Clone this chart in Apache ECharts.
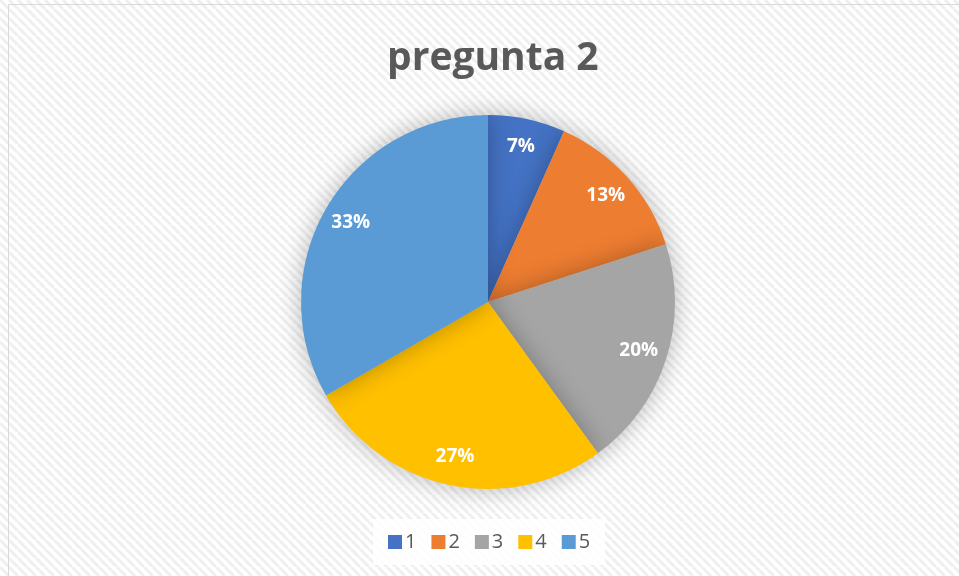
<!DOCTYPE html>
<html>
<head>
<meta charset="utf-8">
<script src="https://cdn.jsdelivr.net/npm/echarts@6/dist/echarts.min.js"></script>
<style>
  html, body { margin: 0; padding: 0; background: #fff; }
  #chart { width: 959px; height: 576px; }
</style>
</head>
<body>
<div id="chart"></div>
<script>
  const titleText = "pregunta 2";
  const categories = ["1", "2", "3", "4", "5"];
  const values = [1, 2, 3, 4, 5];
  const colors = ["#4472C4", "#ED7D31", "#A5A5A5", "#FFC000", "#5B9BD5"];

  // diagonal hatching of the chart area
  function makePattern() {
    const c = document.createElement("canvas");
    c.width = 9;
    c.height = 9;
    const g = c.getContext("2d");
    g.fillStyle = "#ffffff";
    g.fillRect(0, 0, 9, 9);
    g.strokeStyle = "#efefef";
    g.lineWidth = 3;
    g.beginPath();
    for (let k = -9; k <= 18; k += 9) {
      g.moveTo(k, 0);
      g.lineTo(k + 9, 9);
    }
    g.stroke();
    return c;
  }

  const total = values.reduce((a, b) => a + b, 0);
  const pieData = categories.map((name, i) => ({
    name: name,
    value: values[i],
    itemStyle: { color: colors[i] }
  }));

  const chart = echarts.init(document.getElementById("chart"));
  chart.setOption({
    animation: false,
    backgroundColor: { image: makePattern(), repeat: "repeat" },
    graphic: [
      {
        type: "rect",
        shape: { x: 8.5, y: 4.5, width: 960, height: 580 },
        style: { fill: null, stroke: "#d9d9d9", lineWidth: 1 },
        silent: true
      }
    ],
    title: {
      text: titleText,
      left: 382,
      top: 34,
      textStyle: {
        fontFamily: "Open Sans",
        fontWeight: "bold",
        fontSize: 39,
        color: "#595959"
      }
    },
    legend: {
      bottom: 11,
      left: 373,
      data: categories,
      itemWidth: 14,
      itemHeight: 14,
      itemGap: 15,
      icon: "rect",
      padding: [13, 15],
      backgroundColor: "rgba(255,255,255,0.85)",
      textStyle: {
        fontFamily: "Open Sans",
        fontSize: 20,
        color: "#595959",
        padding: [0, 0, 0, -2]
      }
    },
    series: [
      {
        type: "pie",
        center: [488, 302],
        radius: [0, 187],
        startAngle: 90,
        clockwise: true,
        label: { show: false },
        labelLine: { show: false },
        itemStyle: {
          borderWidth: 0,
          shadowBlur: 24,
          shadowColor: "rgba(0,0,0,0.28)"
        },
        emphasis: { disabled: true },
        data: pieData
      },
      {
        type: "pie",
        center: [488, 302],
        radius: [122, 189],
        startAngle: 90,
        silent: true,
        legendHoverLink: false,
        itemStyle: { color: "transparent" },
        label: {
          show: true,
          position: "inside",
          formatter: p => Math.round(p.value / total * 100) + "%",
          fontFamily: "Open Sans",
          fontWeight: "bold",
          fontSize: 19,
          color: "#ffffff"
        },
        labelLine: { show: false },
        emphasis: { disabled: true },
        data: categories.map((name, i) => ({ name: name, value: values[i] }))
      }
    ]
  });
</script>
</body>
</html>
